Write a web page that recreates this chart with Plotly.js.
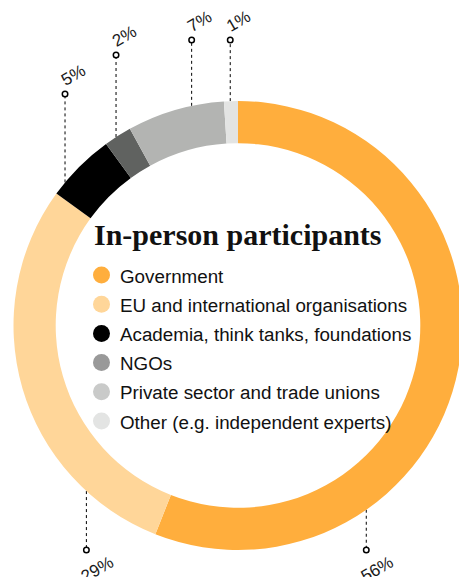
<!DOCTYPE html>
<html><head><meta charset="utf-8">
<script src="https://cdn.plot.ly/plotly-3.0.1.min.js"></script>
<style>html,body{margin:0;padding:0;overflow:hidden;background:#fff}#chart{width:480px;height:577px}</style>
</head><body><div id="chart"></div>
<script>
// ---- data ----
const categories = ["Government","EU and international organisations","Academia, think tanks, foundations","NGOs","Private sector and trade unions","Other (e.g. independent experts)"];
const shares = [56, 29, 5, 2, 7, 1];
const shareLabels = ["56%", "29%", "5%", "2%", "7%", "1%"];
const sliceColors = ["#FFAE3D", "#FFD699", "#000000", "#606260", "#B3B4B2", "#E3E4E3"];
const legendColors = ["#FFAE3D", "#FFD699", "#000000", "#999999", "#C9CAC9", "#E3E4E3"];
const chartTitle = "In-person participants";

// ---- layout geometry ----
const W = 480, H = 577, cx = 238, cy = 325.5, R = 224.5;
const leaderFrac = [0.72, 0.2, 0.2, 0.43, 0.67, 0.45];
const leaderEndY = [550, 550, 94, 55, 40, 40];

const total = shares.reduce((a, b) => a + b, 0);
let cum = 0;
const leaderX = [], leaderStartY = [];
shares.forEach((v, i) => {
  const th = (cum + leaderFrac[i] * v) / total * 2 * Math.PI;
  leaderX.push(cx + R * Math.sin(th));
  leaderStartY.push(cy - R * Math.cos(th));
  cum += v;
});

const traces = [];
traces.push({
  type: 'pie', values: shares, labels: categories, sort: false, direction: 'clockwise', rotation: 0,
  hole: 0.812, textinfo: 'none', hoverinfo: 'none', showlegend: false,
  marker: {colors: sliceColors, line: {width: 0}},
  domain: {x: [(cx - R) / W, (cx + R) / W], y: [1 - (cy + R) / H, 1 - (cy - R) / H]}
});
// leader lines
shares.forEach((v, i) => {
  traces.push({
    type: 'scatter', mode: 'lines', x: [leaderX[i], leaderX[i]], y: [leaderStartY[i], leaderEndY[i]],
    line: {color: '#000', width: 1, dash: 'dot'}, hoverinfo: 'none', showlegend: false
  });
});
// leader end circles
traces.push({
  type: 'scatter', mode: 'markers', x: leaderX, y: leaderEndY,
  marker: {size: 5.5, color: '#fff', line: {color: '#000', width: 1.5}}, hoverinfo: 'none', showlegend: false
});
// legend markers
const legendY = categories.map((c, i) => 275 + i * 29.2);
traces.push({
  type: 'scatter', mode: 'markers', x: categories.map(() => 101.5), y: legendY,
  marker: {size: 17, color: legendColors, line: {width: 0}}, hoverinfo: 'none', showlegend: false
});

const annotations = [];
shareLabels.forEach((t, i) => {
  const top = leaderEndY[i] < cy;
  annotations.push({
    xref: 'x', yref: 'y', x: leaderX[i] + (top ? 8 : 10.5), y: leaderEndY[i] + (top ? -19 : 19),
    text: t, showarrow: false, textangle: -30, xanchor: 'center', yanchor: 'middle',
    font: {family: 'Liberation Sans, Arial, sans-serif', size: 17, color: '#1a1a1a'}
  });
});
categories.forEach((c, i) => {
  annotations.push({
    xref: 'x', yref: 'y', x: 117.5, y: legendY[i] + 1, text: c, showarrow: false,
    xanchor: 'left', yanchor: 'middle',
    font: {family: 'Liberation Sans, Arial, sans-serif', size: 18.8, color: '#111'}
  });
});
annotations.push({
  xref: 'x', yref: 'y', x: cx, y: 234, text: '<b>' + chartTitle + '</b>', showarrow: false,
  xanchor: 'center', yanchor: 'middle',
  font: {family: 'Liberation Serif, Times New Roman, serif', size: 30, color: '#111'}
});

const layout = {
  width: W, height: H, margin: {l: 0, r: 0, t: 0, b: 0},
  paper_bgcolor: '#fff', plot_bgcolor: 'rgba(0,0,0,0)',
  xaxis: {range: [0, W], visible: false, fixedrange: true, domain: [0, 1]},
  yaxis: {range: [H, 0], visible: false, fixedrange: true, domain: [0, 1]},
  annotations: annotations, showlegend: false
};
Plotly.newPlot('chart', traces, layout, {staticPlot: true, displayModeBar: false});
</script></body></html>
